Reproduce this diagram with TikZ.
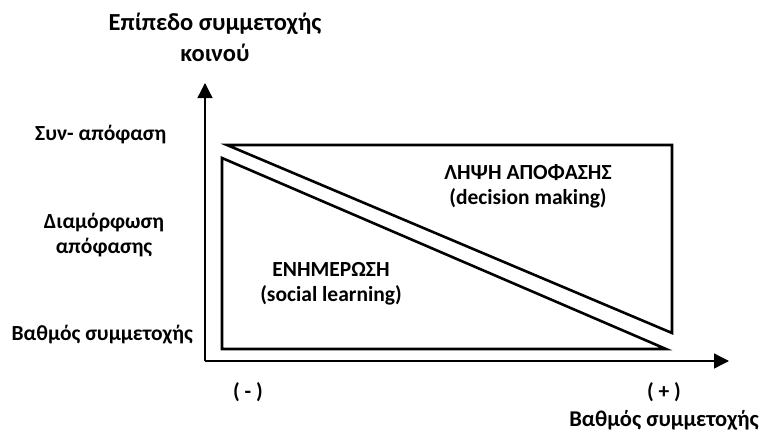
\documentclass[tikz,border=0pt]{standalone}
\usepackage{fontspec}
\setmainfont{Carlito}
\usetikzlibrary{arrows.meta,positioning}

\begin{document}
\begin{tikzpicture}[x=1pt,y=-1pt,
    lbl/.style={font=\fontsize{21.5}{25}\selectfont\bfseries, inner sep=0pt, align=center},
    biglbl/.style={lbl, font=\fontsize{24.5}{31}\selectfont\bfseries},
    axisline/.style={line width=1.3pt, -{Triangle[length=15pt,width=15pt]}},
    zone/.style={line width=2.6pt, line join=miter}
  ]
  \useasboundingbox (0,0) rectangle (769,434);
  % axes
  \coordinate (origin) at (205,361);
  \coordinate (ytip) at (205,83);
  \coordinate (xtip) at (729,361);
  \draw[axisline] (origin) -- (ytip);
  \draw[axisline] (origin) -- (xtip);
  % zones
  \draw[zone] (227,145) -- (672,145) -- (672,333) -- cycle;
  \draw[zone] (222,158) -- (222,349) -- (666,349) -- cycle;
  % labels
  \node[biglbl] (ytitle) at (215,37) {Επίπεδο συμμετοχής\\κοινού};
  \node[lbl, anchor=west] (cod) at (35,135) {Συν- απόφαση};
  \node[lbl] (form) at (104,235) {Διαμόρφωση\\απόφασης};
  \node[lbl, anchor=east] (deg) at (193,335) {Βαθμός συμμετοχής};
  \node[lbl] (minus) at (248,392) {( - )};
  \node[lbl] (plus) at (664,392) {( + )};
  \node[lbl, font=\fontsize{22.5}{27}\selectfont\bfseries, anchor=east] (xtitle) at (759,420) {Βαθμός συμμετοχής};
  \node[lbl] (decide) at (528,186) {ΛΗΨΗ ΑΠΟΦΑΣΗΣ\\(decision making)};
  \node[lbl] (inform) at (331,284) {ΕΝΗΜΕΡΩΣΗ\\(social learning)};
\end{tikzpicture}
\end{document}
